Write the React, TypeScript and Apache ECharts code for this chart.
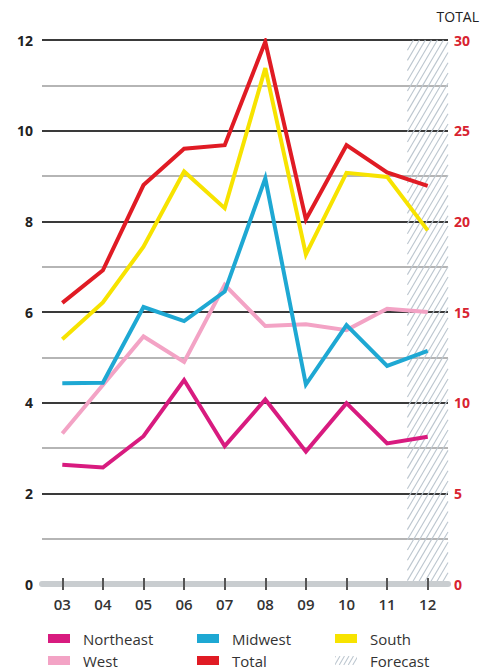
import React, { useEffect, useRef } from 'react';
import * as echarts from 'echarts';

const years = ['03', '04', '05', '06', '07', '08', '09', '10', '11', '12'];
const northeast = [2.63, 2.57, 3.26, 4.5, 3.04, 4.07, 2.92, 3.99, 3.1, 3.25];
const west = [3.32, 4.39, 5.46, 4.9, 6.6, 5.69, 5.73, 5.6, 6.07, 6.0];
const midwest = [4.43, 4.44, 6.11, 5.8, 6.45, 8.95, 4.4, 5.71, 4.81, 5.14];
const south = [5.4, 6.21, 7.44, 9.1, 8.29, 11.38, 7.27, 9.07, 8.98, 7.8];
const total = [15.5, 17.3, 22.0, 24.0, 24.2, 29.9, 20.1, 24.2, 22.7, 21.95];
const forecastYears = ['12'];

const FONT = '"Open Sans", "Noto Sans", sans-serif';

const hatchSvg =
  '<svg xmlns="http://www.w3.org/2000/svg" width="28" height="12" viewBox="0 0 28 12">' +
  [0, 6, 12, 18, 24, 30].map((s) => `<line x1="${s - 7}" y1="12" x2="${s}" y2="0" stroke="#bcc6cf" stroke-width="1.4"/>`).join('') +
  '</svg>';
const forecastIcon = 'image://data:image/svg+xml;charset=utf-8,' + encodeURIComponent(hatchSvg);

export default function App() {
  const ref = useRef<HTMLDivElement>(null);
  useEffect(() => {
    const chart = echarts.init(ref.current as HTMLDivElement, null, { renderer: 'svg' });
    const lineSeries = (name: string, data: number[], color: string, yAxisIndex = 0) => ({
      name,
      type: 'line',
      data,
      yAxisIndex,
      symbol: 'none',
      z: 3,
      itemStyle: { color },
      lineStyle: { color, width: 4, join: 'miter', cap: 'butt' },
    });
    const legendCommon = {
      orient: 'vertical',
      top: 631,
      height: 40,
      padding: 0,
      itemWidth: 22,
      itemHeight: 9,
      itemGap: 7,
      icon: 'rect',
      selectedMode: false,
      textStyle: { fontSize: 15, lineHeight: 14, color: '#333', fontFamily: FONT, padding: [0, 0, 0, 8] },
    };
    const option: any = {
      animation: false,
      backgroundColor: '#ffffff',
      title: {
        text: 'TOTAL',
        right: 11,
        top: 4,
        textStyle: { fontSize: 14, fontWeight: 'normal', color: '#222', fontFamily: FONT },
      },
      grid: { left: 42, top: 40, width: 406, height: 544, containLabel: false },
      legend: [
        { ...legendCommon, left: 48, data: ['Northeast', 'West'] },
        { ...legendCommon, left: 197, data: ['Midwest', 'Total'] },
        { ...legendCommon, left: 335, data: ['South', { name: 'Forecast', icon: forecastIcon }] },
      ],
      xAxis: [
        {
          type: 'category',
          data: years,
          boundaryGap: true,
          position: 'bottom',
          axisLine: { show: true, lineStyle: { color: '#c9cdd0', width: 6 } },
          axisTick: { show: true, alignWithLabel: true, length: 6, lineStyle: { color: '#555', width: 2 } },
          axisLabel: { margin: 12, fontSize: 15, fontWeight: 600, color: '#333', fontFamily: FONT },
          splitLine: { show: false },
          z: 4,
        },
        {
          type: 'category',
          data: years,
          boundaryGap: true,
          position: 'bottom',
          axisLine: { show: false },
          axisTick: { show: true, inside: true, alignWithLabel: true, length: 6, lineStyle: { color: '#555', width: 2 } },
          axisLabel: { show: false },
          splitLine: { show: false },
          z: 5,
        },
      ],
      yAxis: [
        {
          type: 'value',
          min: 0,
          max: 12,
          interval: 2,
          axisLine: { show: false },
          axisTick: { show: false },
          axisLabel: { margin: 9, fontSize: 14, fontWeight: 700, color: '#222', fontFamily: FONT },
          splitLine: {
            show: true,
            lineStyle: { color: ['rgba(0,0,0,0)', '#3a3a3a', '#3a3a3a', '#3a3a3a', '#3a3a3a', '#3a3a3a', '#3a3a3a'], width: 2 },
          },
          minorTick: { show: false, splitNumber: 2 },
          minorSplitLine: { show: true, lineStyle: { color: '#9c9c9c', width: 1.5 } },
        },
        {
          type: 'value',
          min: 0,
          max: 30,
          interval: 5,
          position: 'right',
          axisLine: { show: false },
          axisTick: { show: false },
          axisLabel: { margin: 6, fontSize: 14, fontWeight: 700, color: '#d8232f', fontFamily: FONT },
          splitLine: { show: false },
        },
      ],
      series: [
        {
          name: 'Forecast',
          type: 'custom',
          z: 1,
          itemStyle: { color: '#c3ccd3' },
          data: forecastYears.map((y) => [y, 12]),
          encode: { x: 0, y: 1 },
          renderItem: (params: any, api: any) => {
            const cs = params.coordSys;
            const idx = api.value(0);
            const cx = api.coord([idx, 0])[0];
            const bw = api.size([1, 0])[0];
            const x0 = cx - bw / 2;
            const x1 = cs.x + cs.width;
            const yt = cs.y;
            const yb = cs.y + cs.height;
            const H = yb - yt;
            const k = 1.7;
            const step = 6;
            const children: any[] = [];
            for (let s = x0 - H / k; s < x1; s += step) {
              const xa = Math.max(s, x0);
              const xb = Math.min(s + H / k, x1);
              if (xb <= xa) continue;
              children.push({
                type: 'line',
                shape: { x1: xa, y1: yb - k * (xa - s), x2: xb, y2: yb - k * (xb - s) },
                style: { stroke: '#bcc6cf', lineWidth: 1.1 },
              });
            }
            return { type: 'group', children };
          },
        },
        lineSeries('West', west, '#f3a3c5'),
        lineSeries('Northeast', northeast, '#d81b7f'),
        lineSeries('Midwest', midwest, '#1ea8d3'),
        lineSeries('South', south, '#f7e300'),
        lineSeries('Total', total, '#e01b24', 1),
      ],
    };
    chart.setOption(option);
    return () => chart.dispose();
  }, []);
  return <div ref={ref} style={{ position: 'fixed', left: 0, top: 0, width: 495, height: 672 }} />;
}
